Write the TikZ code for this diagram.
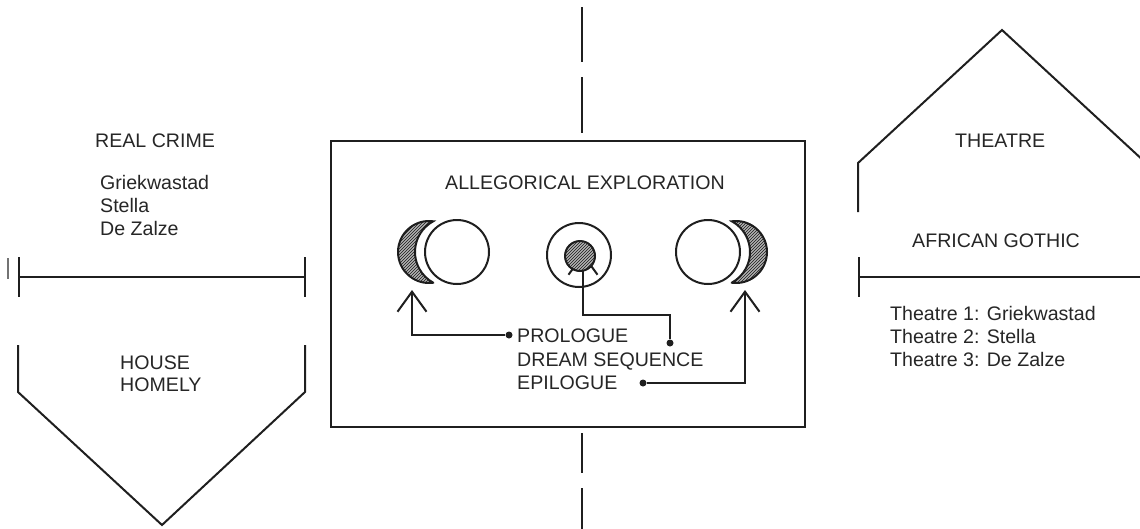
\documentclass[tikz,border=0pt]{standalone}
\usepackage{fontspec}
\setmainfont{Liberation Sans}
\usetikzlibrary{arrows.meta,patterns}
\begin{document}
\begin{tikzpicture}[x=1pt,y=-1pt,
  ln/.style={draw=black!88, line width=2pt},
  lbl/.style={font=\fontsize{19.6}{23}\selectfont, text=black!85, inner sep=0pt, anchor=base west},
  dotnode/.style={circle, fill=black!88, inner sep=0pt, minimum size=7pt},
  hatch/.style={fill=gray!60, postaction={pattern=north east lines, pattern color=black!90}},
  arr/.style={ln, -{Straight Barb[length=20pt,width=29pt]}}]
\useasboundingbox (0,0) rectangle (1140,528);
\clip (0,0) rectangle (1140,528);

% dashed vertical axis
\draw[ln] (582,7) -- (582,62);
\draw[ln] (582,77) -- (582,133);
\draw[ln] (582,433) -- (582,473);
\draw[ln] (582,488) -- (582,530);

% left side
\draw[draw=black!55, line width=1.4pt] (8,258) -- (8,279);
\draw[ln] (19,257) -- (19,297);
\draw[ln] (305,257) -- (305,297);
\draw[ln] (19,277) -- (305,277);
\draw[ln, line join=miter] (18,345) -- (18,392) -- (162,525) -- (305,392) -- (305,345);

\node[lbl] (real) at (95,147) {REAL CRIME};
\node[lbl] (g1) at (100,189) {Griekwastad};
\node[lbl] (s1) at (100,212) {Stella};
\node[lbl] (z1) at (100,235) {De Zalze};
\node[lbl] (house) at (120,369) {HOUSE};
\node[lbl] (homely) at (120,391) {HOMELY};

% right side
\draw[ln, line join=miter] (858,212) -- (858,163) -- (1002,30) -- (1146,163) -- (1146,212);
\draw[ln] (859,257) -- (859,297);
\draw[ln] (859,277) -- (1142,277);
\node[lbl] (theatre) at (955,147) {THEATRE};
\node[lbl] (gothic) at (912,247) {AFRICAN GOTHIC};
\node[lbl] (t1) at (890,320) {Theatre 1: Griekwastad};
\node[lbl] (t2) at (890,343) {Theatre 2: Stella};
\node[lbl] (t3) at (890,366) {Theatre 3: De Zalze};

% central box
\draw[ln] (331,141) rectangle (805,427);
\node[lbl] (alle) at (445,189) {ALLEGORICAL EXPLORATION};

% left moon
\filldraw[ln, hatch] ([shift={(82.2:31)}]429,252) arc[start angle=82.2, end angle=277.8, radius=31]
   arc[start angle=241.3, end angle=118.7, radius=35] -- cycle;
\draw[ln] (457,252) circle (32);

% right moon
\filldraw[ln, hatch] ([shift={(97.8:31)}]736,252) arc[start angle=97.8, end angle=-97.8, radius=31]
   arc[start angle=-61.3, end angle=61.3, radius=35] -- cycle;
\draw[ln] (708,252) circle (32);

% middle eye
\draw[ln] (579,255) circle (32);

% labels and dots
\node[lbl] (pro) at (517,342) {PROLOGUE};
\node[lbl] (dream) at (517,366) {DREAM SEQUENCE};
\node[lbl] (epi) at (517,389) {EPILOGUE};
\node[dotnode] (pdot) at (509,335) {};
\node[dotnode] (ddot) at (670,343) {};
\node[dotnode] (edot) at (643,383) {};

\coordinate (ltip) at (412,290);
\coordinate (rtip) at (745,290);
\coordinate (mtip) at (583,253);
\coordinate (mturn) at (670,315);

\draw[arr] (pdot) -| (ltip);
\draw[arr] (edot) -| (rtip);
\draw[arr] (ddot) -- (mturn) -| (mtip);

\filldraw[ln, hatch] (580,256) circle (15);
\end{tikzpicture}
\end{document}
